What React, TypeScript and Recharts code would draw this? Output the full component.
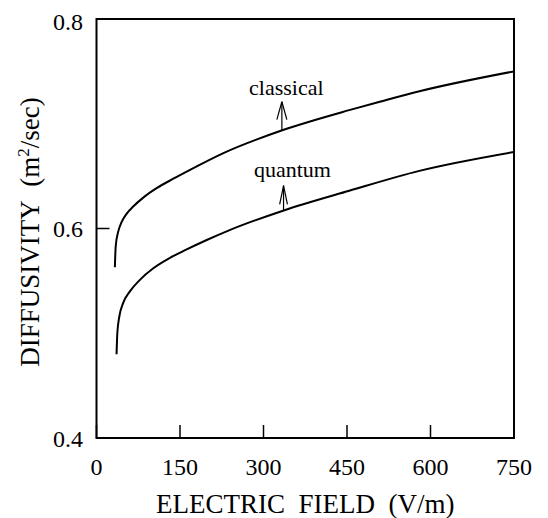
import React from 'react';
import { LineChart, Line, XAxis, YAxis, ReferenceArea, ReferenceLine, ReferenceDot } from 'recharts';

const classicalField = [33, 34.5, 39, 45, 54, 66, 84, 108, 138, 168, 228, 335, 454, 509, 580, 750];
const classicalDiff = [0.563, 0.583, 0.597, 0.606, 0.614, 0.621, 0.6295, 0.6385, 0.6475, 0.656, 0.672, 0.694, 0.713, 0.721, 0.731, 0.75];
const quantumField = [36, 37.4, 41, 48, 60, 78, 102, 132, 162, 198, 237, 335, 454, 580, 750];
const quantumDiff = [0.48, 0.5, 0.516, 0.529, 0.54, 0.551, 0.562, 0.572, 0.58, 0.589, 0.598, 0.617, 0.636, 0.655, 0.673];

const xTicks = [0, 150, 300, 450, 600, 750];
const yTicks = [0.4, 0.6, 0.8];

const seriesNames = ['classical', 'quantum'];
const arrowField = [333, 336];
const arrowTip = [0.721, 0.641];
const arrowHead = [0.704, 0.623];
const arrowBase = [0.694, 0.617];
const arrowHalf = [9, 7];
const labelField = [341, 352];
const labelDiff = [0.7274, 0.6494];

const classicalData = classicalField.map((x, i) => ({ x, y: classicalDiff[i] }));
const quantumData = quantumField.map((x, i) => ({ x, y: quantumDiff[i] }));

const FONT = "'Liberation Serif', 'Tinos', 'Times New Roman', 'DejaVu Serif', 'Noto Serif', serif";
const fontStyle = { fontFamily: FONT };

const XLabel = (props: any) => {
  const vb = props.viewBox || {};
  return (
    <text x={vb.x + vb.width / 2} y={vb.y + 75} textAnchor="middle" fontFamily={FONT} style={fontStyle} fontSize={27} fill="#000">
      {'ELECTRIC\u00A0\u00A0FIELD\u00A0\u00A0(V/m)'}
    </text>
  );
};

const YLabel = (props: any) => {
  const vb = props.viewBox || {};
  const cx = vb.x + 30.5;
  const cy = vb.y + 213;
  return (
    <text x={cx} y={cy} transform={`rotate(-90, ${cx}, ${cy})`} textAnchor="middle" fontFamily={FONT} style={fontStyle} fontSize={27} fill="#000">
      <tspan>{'DIFFUSIVITY\u00A0\u00A0(m'}</tspan>
      <tspan dy={-10} fontSize={17}>2</tspan>
      <tspan dy={10}>/sec)</tspan>
    </text>
  );
};

const makeNote = (name: string) => (props: any) => {
  const vb = props.viewBox || {};
  const x = (vb.x || 0) + (vb.width || 0) / 2;
  const y = (vb.y || 0) + (vb.height || 0) / 2;
  return (
    <text x={x} y={y} textAnchor="middle" fontFamily={FONT} style={fontStyle} fontSize={22} fill="#000">
      {name}
    </text>
  );
};

const tickStyle = { fill: '#000', fontSize: 24, fontFamily: FONT, style: fontStyle };

export default function App() {
  return (
    <div style={fontStyle}>
      <LineChart width={540} height={510} margin={{ top: 11, right: 34, left: 0, bottom: 0 }} style={fontStyle}>
        <XAxis
          type="number"
          dataKey="x"
          domain={[0, 750]}
          ticks={xTicks}
          allowDataOverflow
          axisLine={false}
          tickSize={-13}
          tickMargin={33}
          tickLine={{ stroke: '#000', strokeWidth: 1.5 }}
          tick={tickStyle}
          height={80}
          label={{ content: XLabel }}
        />
        <YAxis
          type="number"
          domain={[0.4, 0.8]}
          ticks={yTicks}
          allowDataOverflow
          axisLine={false}
          width={88.5}
          tickSize={-13}
          tickMargin={26.5}
          tickLine={{ stroke: '#000', strokeWidth: 1.5 }}
          tick={tickStyle}
          label={{ content: YLabel }}
        />
        <ReferenceArea x1={0} x2={750} y1={0.4} y2={0.8} fill="none" stroke="#000" strokeWidth={2} fillOpacity={0} />
        <Line data={classicalData} dataKey="y" type="monotone" stroke="#000" strokeWidth={2} dot={false} isAnimationActive={false} />
        <Line data={quantumData} dataKey="y" type="monotone" stroke="#000" strokeWidth={2} dot={false} isAnimationActive={false} />
        {seriesNames.map((name, i) => (
          <ReferenceLine
            key={`stem-${name}`}
            segment={[{ x: arrowField[i], y: arrowTip[i] }, { x: arrowField[i], y: arrowBase[i] }]}
            stroke="#000"
            strokeWidth={1.2}
          />
        ))}
        {seriesNames.map((name, i) => (
          <ReferenceLine
            key={`hl-${name}`}
            segment={[{ x: arrowField[i] - arrowHalf[i], y: arrowHead[i] }, { x: arrowField[i], y: arrowTip[i] }]}
            stroke="#000"
            strokeWidth={1.2}
          />
        ))}
        {seriesNames.map((name, i) => (
          <ReferenceLine
            key={`hr-${name}`}
            segment={[{ x: arrowField[i] + arrowHalf[i], y: arrowHead[i] }, { x: arrowField[i], y: arrowTip[i] }]}
            stroke="#000"
            strokeWidth={1.2}
          />
        ))}
        {seriesNames.map((name, i) => (
          <ReferenceDot
            key={`lab-${name}`}
            x={labelField[i]}
            y={labelDiff[i]}
            r={0}
            fill="none"
            stroke="none"
            label={{ content: makeNote(name) }}
          />
        ))}
      </LineChart>
    </div>
  );
}
